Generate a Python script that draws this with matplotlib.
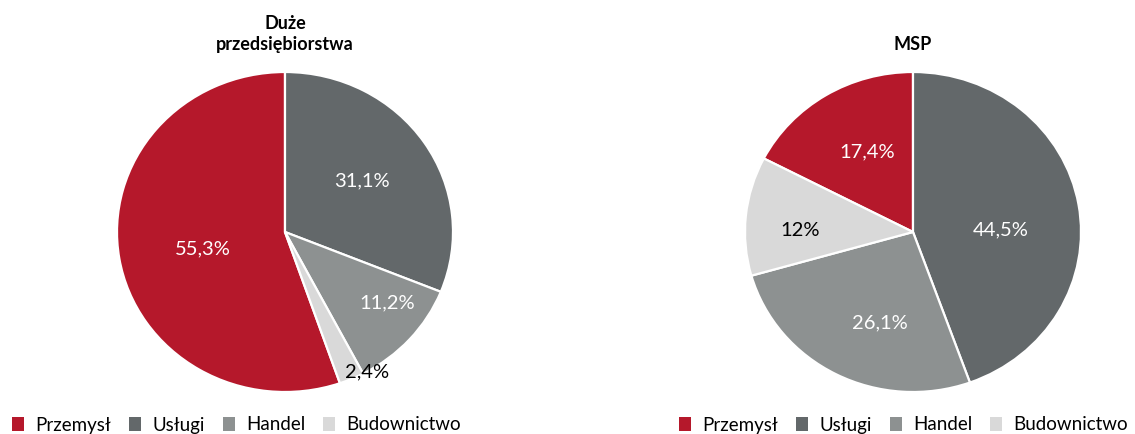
import numpy as np
import matplotlib
matplotlib.use("Agg")
import matplotlib.pyplot as plt
from matplotlib.patches import Patch

plt.rcParams['font.family'] = ['Lato', 'DejaVu Sans']

categories = ['Przemysł', 'Usługi', 'Handel', 'Budownictwo']
duze_values = [55.3, 31.1, 11.2, 2.4]
msp_values = [17.4, 44.5, 26.1, 12.0]
duze_labels = ['55,3%', '31,1%', '11,2%', '2,4%']
msp_labels = ['17,4%', '44,5%', '26,1%', '12%']
titles = ['Duże\nprzedsiębiorstwa', 'MSP']

colors = ['#B5182B', '#63686A', '#8D9191', '#D9D9D9']
text_colors = ['white', 'white', 'white', 'black']

W, H = 1135, 434
fig = plt.figure(figsize=(W / 100, H / 100), dpi=100)


def draw_pie(cx, cy, values, labels, title, title_y, label_r, label_shift):
    rx, ry = 168, 160
    ax = fig.add_axes([(cx - rx) / W, (H - cy - ry) / H, 2 * rx / W, 2 * ry / H])
    start = 90 + values[0] / sum(values) * 360
    wedges, _ = ax.pie(values, colors=colors, startangle=start, counterclock=False,
                       radius=1, wedgeprops=dict(edgecolor='white', linewidth=1.6))
    ax.set_aspect('auto')
    ax.set_xlim(-1, 1)
    ax.set_ylim(-1, 1)
    # label placement roughly like excel's "best fit"
    for w, lab, tc, r, d in zip(wedges, labels, text_colors, label_r, label_shift):
        mid = np.deg2rad((w.theta1 + w.theta2) / 2 + d)
        ax.text(r * np.cos(mid), r * np.sin(mid), lab, ha='center', va='center',
                color=tc, fontsize=14.5)
    fig.text(cx / W, 1 - title_y / H, title, ha='center', va='center',
             fontsize=13, fontweight='bold', linespacing=1.35)


draw_pie(285, 232, duze_values, duze_labels, titles[0], 34,
         [0.5, 0.56, 0.75, 1.0], [3, 1, 6, 6])
draw_pie(913, 232, msp_values, msp_labels, titles[1], 45,
         [0.57, 0.52, 0.6, 0.67], [-3, -8.5, 8, 5])

handles = [Patch(facecolor=c, edgecolor='none') for c in colors]
for x0 in (12, 679):
    fig.legend(handles, categories, loc='center left', bbox_to_anchor=(x0 / W, 1 - 425 / H),
               ncol=4, frameon=False, fontsize=13.5, handlelength=0.65, handleheight=0.7,
               handletextpad=0.6, columnspacing=0.95, borderpad=0, borderaxespad=0)

fig.savefig('out.png', dpi=100)
